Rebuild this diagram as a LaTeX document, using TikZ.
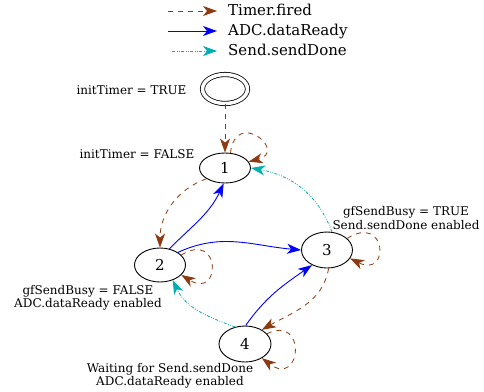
\documentclass[tikz,border=0pt]{standalone}
\usepackage{fontspec}
\setmainfont{DejaVu Serif}
\usetikzlibrary{arrows.meta,shapes.geometric}
\definecolor{timerbrown}{RGB}{139,58,18}
\definecolor{sendcyan}{RGB}{0,175,175}

\begin{document}
\begin{tikzpicture}[x=1pt,y=1pt]
\tikzset{StateStyle/.style = {shape = ellipse, draw, line width = 0.9pt, minimum width = 51pt, minimum height = 35pt, inner sep = 0pt, font = \fontsize{15}{15}\selectfont},
  LabelStyle/.style = {align = center, inner sep = 0pt, font = \fontsize{12}{13.5}\selectfont},
  LegendStyle/.style = {anchor = base west, inner sep = 0pt, font = \fontsize{15}{15}\selectfont},
  arrowtip/.style = {-{Stealth[length = 14pt, width = 10pt, inset = 4pt]}},
  fired/.style = {arrowtip, timerbrown, line width = 0.8pt, dash pattern = on 5pt off 5pt},
  ready/.style = {arrowtip, blue, line width = 0.9pt},
  done/.style = {arrowtip, sendcyan, line width = 0.8pt, dash pattern = on 3pt off 1.5pt on 0.8pt off 1.5pt on 0.8pt off 1.5pt}}
\useasboundingbox (0,0) rectangle (484,-391);

\coordinate (F0) at (168,-11); \coordinate (F1) at (217,-11); \draw[fired] (F0) -- (F1); \node[LegendStyle] (Ftext) at (228,-15) {Timer.fired};
\coordinate (R0) at (168,-31); \coordinate (R1) at (217,-31); \draw[ready] (R0) -- (R1); \node[LegendStyle] (Rtext) at (228,-35) {ADC.dataReady};
\coordinate (D0) at (172,-51); \coordinate (D1) at (217,-51); \draw[done] (D0) -- (D1); \node[LegendStyle] (Dtext) at (228,-55) {Send.sendDone};

\node[StateStyle, double, double distance = 3.5pt, line width = 0.8pt, minimum width = 45pt, minimum height = 29pt] (init) at (225,-89) {};
\node[StateStyle, minimum height = 30pt] (n1) at (225,-168) {1};
\node[StateStyle, minimum height = 34pt] (n2) at (160,-265) {2};
\node[StateStyle, minimum height = 36pt] (n3) at (327,-250) {3};
\node[StateStyle, minimum height = 36pt, minimum width = 52pt] (n4) at (245,-344) {4};

\node[LabelStyle] (initL) at (131.5,-90) {initTimer = TRUE};
\node[LabelStyle] (n1L) at (137,-154) {initTimer = FALSE};
\node[LabelStyle] (n2L) at (88,-298) {gfSendBusy = FALSE\\ADC.dataReady enabled};
\node[LabelStyle] (n3L) at (406,-218) {gfSendBusy = TRUE\\Send.sendDone enabled};
\node[LabelStyle] (n4L) at (170,-376) {Waiting for Send.sendDone\\ADC.dataReady enabled};

\draw[fired] (init) -- (n1);
\draw[fired] (n1.70) .. controls +(5,45) and +(40,10) .. (n1.15);
\draw[fired] (n1.210) to[out=200,in=90] (n2.north);
\draw[fired] (n2.25) .. controls +(40,25) and +(40,-25) .. (n2.-25);
\draw[fired] (n3.30) .. controls +(40,25) and +(40,-20) .. (n3.-20);
\draw[fired] (n3.-85) to[out=-100,in=30] (n4.40);
\draw[fired] (n4.25) .. controls +(40,20) and +(40,-30) .. (n4.-40);
\draw[ready] (n2.60) to[out=45,in=245] (n1.265);
\draw[ready] (n2.35) to[out=25,in=175] (n3.west);
\draw[ready] (n4.88) to[out=55,in=215] (n3.225);
\draw[done] (n3.75) to[out=110,in=-10] (n1.east);
\draw[done] (n4.120) to[out=160,in=-65] (n2.-50);
\end{tikzpicture}
\end{document}
